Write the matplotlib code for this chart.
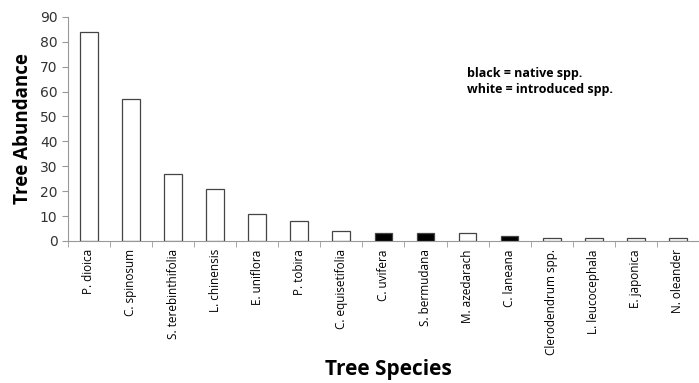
import matplotlib
matplotlib.use('Agg')
import matplotlib.pyplot as plt
import numpy as np

species = ['P. dioica', 'C. spinosum', 'S. terebinthifolia', 'L. chinensis',
           'E. uniflora', 'P. tobira', 'C. equisetifolia', 'C. uvifera',
           'S. bermudana', 'M. azedarach', 'C. laneana', 'Clerodendrum spp.',
           'L. leucocephala', 'E. japonica', 'N. oleander']
abundance = [84, 57, 27, 21, 11, 8, 4, 3, 3, 3, 2, 1, 1, 1, 1]
native = [False, False, False, False, False, False, False, True,
          True, False, True, False, False, False, False]

fig = plt.figure(figsize=(6.99, 3.83), dpi=100)
ax = fig.add_axes([0.097, 0.371, 0.903, 0.585])

x = np.arange(len(species))
cols = ['black' if n else 'white' for n in native]
ax.bar(x, abundance, width=0.42, color=cols, edgecolor='#444444', linewidth=0.9)

ax.set_xlim(-0.5, len(species) - 0.5)
ax.set_ylim(0, 90)
ax.set_yticks(range(0, 91, 10))
ax.tick_params(axis='y', labelsize=10, colors='#333333', length=4, color='#999999')
ax.set_xticks(x)
ax.set_xticklabels(species, rotation=90, fontsize=8.5, family='Open Sans')
ax.set_xticks(np.arange(-0.5, len(species), 1), minor=True)
ax.tick_params(axis='x', which='major', length=0, pad=6)
ax.tick_params(axis='x', which='minor', length=4, color='#999999')

for s in ['top', 'right']:
    ax.spines[s].set_visible(False)
for s in ['left', 'bottom']:
    ax.spines[s].set_color('#999999')

ax.set_ylabel('Tree Abundance', fontsize=13.5, fontweight='bold', family='Open Sans', labelpad=5)
fig.text(0.555, 0.035, 'Tree Species', fontsize=15, fontweight='bold',
         family='Open Sans', ha='center', va='center')

ax.text(0.632, 0.775, 'black = native spp.\nwhite = introduced spp.', transform=ax.transAxes,
        fontsize=9, fontweight='bold', family='Open Sans', va='top', linespacing=1.3)

fig.savefig('out.png', dpi=100)
